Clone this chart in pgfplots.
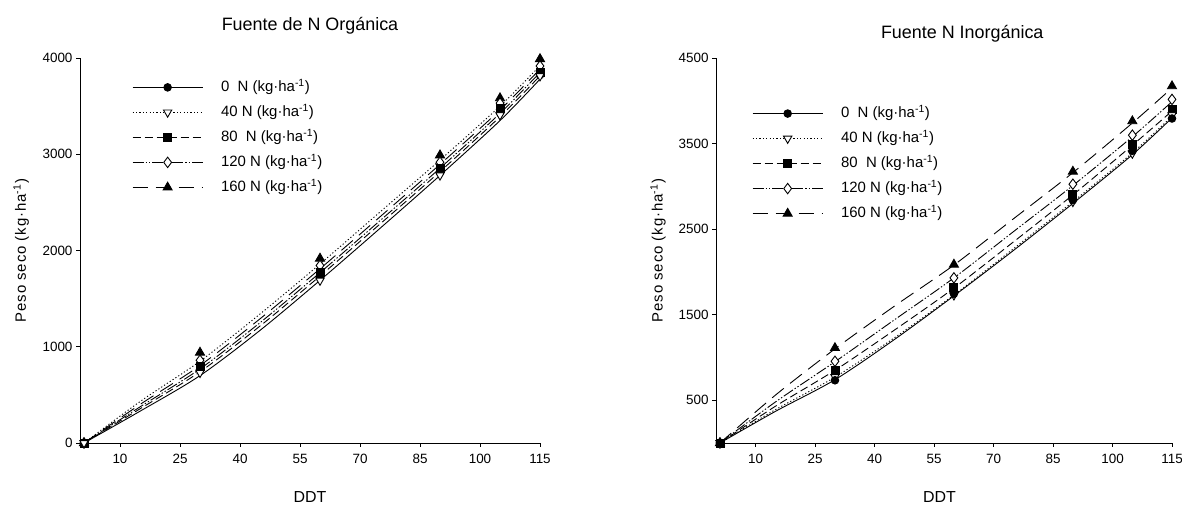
\documentclass[border=0pt]{standalone}
\usepackage{fontspec}
\setmainfont{Liberation Sans}
\usepackage{pgfplots}
\pgfplotsset{compat=1.18}
\pgfplotsset{
 refax/.style={
  scale only axis, clip=false,
  axis x line=bottom, axis y line=left,
  axis line style={-, line width=0.9bp},
  xmin=0, xmax=115, ymin=0,
  xtick={10,25,40,55,70,85,100,115},
  tick align=outside, major tick length=4bp,
  tick style={black, line width=0.9bp},
  /pgf/number format/assume math mode=true,
  /pgf/number format/set thousands separator={},
  ticklabel style={font=\fontsize{13.5}{15}\selectfont},
  xticklabel style={yshift=-4bp},
  legend image code/.code={\draw[mark repeat=2,mark phase=2,#1] plot coordinates {(0bp,0bp)(35bp,0bp)(70bp,0bp)};},
  legend cell align=left,
  legend style={draw=none, fill=none, inner sep=0pt, anchor=north west, row sep=9bp,
    font=\fontsize{15}{17}\selectfont,
    nodes={inner sep=0pt, text height=12bp, text depth=4bp},
    /tikz/every odd column/.append style={column sep=18bp}},
  xlabel={DDT},
  ylabel={Peso seco (kg·ha\textsuperscript{-1})},
  xlabel style={anchor=center, font=\fontsize{16}{18}\selectfont},
  ylabel style={anchor=center, rotate=0, font=\fontsize{15}{17}\selectfont\addfontfeature{LetterSpace=6}},
  title style={anchor=center, font=\fontsize{18}{20}\selectfont},
 },
 lw/.style={black, line width=0.9bp},
 s0/.style={lw, solid, mark=*, mark size=3.8bp, mark options={solid, fill=black}},
 s40/.style={lw, dash pattern=on 1.2bp off 2.2bp, mark=triangle*, mark size=4.8bp, mark options={solid, rotate=180, fill=white}},
 s80/.style={lw, dash pattern=on 8bp off 4bp, mark=square*, mark size=4bp, mark options={solid, fill=black}},
 s120/.style={lw, dash pattern=on 11bp off 2bp on 1.4bp off 2bp on 1.4bp off 2bp, mark=diamond*, mark size=5.2bp, mark options={solid, fill=white}},
 s160/.style={lw, dash pattern=on 15bp off 8bp, mark=triangle*, mark size=5.2bp, mark options={solid, fill=black}},
}
\begin{document}
\begin{tikzpicture}
\path[use as bounding box] (0,0) rectangle (1182bp,506bp);
% ---------------- Left: organic
\begin{axis}[refax, at={(80bp,63bp)}, anchor=south west,
  width=460bp, height=385bp, ymax=4000,
  ytick={0,1000,2000,3000,4000},
  title={Fuente de N Orgánica},
  title style={at={(axis description cs:0.5,1.068)}},
  xlabel style={at={(axis description cs:0.5,-0.14)}},
  ylabel style={at={(axis description cs:-0.128,0.5)}, rotate=0},
  legend style={at={(axis description cs:0.113,0.945)}},
]
\addlegendimage{s0}\addlegendentry{0\ \ N (kg·ha\textsuperscript{-1})}
\addlegendimage{s40}\addlegendentry{40 N (kg·ha\textsuperscript{-1})}
\addlegendimage{s80}\addlegendentry{80\ \ N (kg·ha\textsuperscript{-1})}
\addlegendimage{s120}\addlegendentry{120 N (kg·ha\textsuperscript{-1})}
\addlegendimage{s160}\addlegendentry{160 N (kg·ha\textsuperscript{-1})}
% fitted curves
\addplot[lw, solid, smooth, forget plot] coordinates {(1,0)(15,330)(30,700)(45,1170)(60,1690)(75,2230)(90,2780)(105,3350)(115,3780)};
\addplot[lw, dash pattern=on 8bp off 4bp, smooth, forget plot] coordinates {(1,0)(15,355)(30,740)(45,1215)(60,1735)(75,2275)(90,2820)(105,3390)(115,3815)};
\addplot[lw, dash pattern=on 11bp off 2bp on 1.4bp off 2bp on 1.4bp off 2bp, smooth, forget plot] coordinates {(1,0)(15,375)(30,770)(45,1250)(60,1770)(75,2310)(90,2855)(105,3425)(115,3850)};
\addplot[lw, dash pattern=on 15bp off 8bp, smooth, forget plot] coordinates {(1,0)(15,400)(30,805)(45,1290)(60,1810)(75,2350)(90,2895)(105,3460)(115,3885)};
\addplot[lw, dash pattern=on 1.2bp off 2.2bp, smooth, forget plot] coordinates {(1,0)(15,430)(30,850)(45,1340)(60,1860)(75,2400)(90,2940)(105,3500)(115,3920)};
% observed points
\addplot[s160, only marks, forget plot] coordinates {(1,0)(30,940)(60,1917)(90,2990)(105,3583)(115,3990)};
\addplot[s120, only marks, forget plot] coordinates {(1,0)(30,860)(60,1844)(90,2917)(105,3531)(115,3917)};
\addplot[s80, only marks, forget plot] coordinates {(1,0)(30,800)(60,1771)(90,2854)(105,3479)(115,3854)};
\addplot[s0, only marks, forget plot] coordinates {(1,0)(30,760)(60,1719)(90,2812)(105,3437)(115,3823)};
\addplot[s40, only marks, forget plot] coordinates {(1,0)(30,730)(60,1688)(90,2781)(105,3406)(115,3812)};
\end{axis}
% ---------------- Right: inorganic
\begin{axis}[refax, at={(716bp,63bp)}, anchor=south west,
  width=456bp, height=385bp, ymax=4500,
  ytick={500,1500,2500,3500,4500},
  title={Fuente N Inorgánica},
  title style={at={(axis description cs:0.54,1.047)}},
  xlabel style={at={(axis description cs:0.49,-0.14)}},
  ylabel style={at={(axis description cs:-0.127,0.5)}, rotate=0},
  legend style={at={(axis description cs:0.079,0.877)}},
]
\addlegendimage{s0}\addlegendentry{0\ \ N (kg·ha\textsuperscript{-1})}
\addlegendimage{s40}\addlegendentry{40 N (kg·ha\textsuperscript{-1})}
\addlegendimage{s80}\addlegendentry{80\ \ N (kg·ha\textsuperscript{-1})}
\addlegendimage{s120}\addlegendentry{120 N (kg·ha\textsuperscript{-1})}
\addlegendimage{s160}\addlegendentry{160 N (kg·ha\textsuperscript{-1})}
% fitted curves
\addplot[lw, solid, smooth, forget plot] coordinates {(1,0)(15,370)(30,740)(45,1210)(60,1720)(75,2250)(90,2800)(105,3370)(115,3800)};
\addplot[lw, dash pattern=on 1.2bp off 2.2bp, smooth, forget plot] coordinates {(1,0)(15,390)(30,770)(45,1230)(60,1730)(75,2270)(90,2820)(105,3390)(115,3820)};
\addplot[lw, dash pattern=on 8bp off 4bp, smooth, forget plot] coordinates {(1,0)(15,430)(30,850)(45,1320)(60,1810)(75,2350)(90,2900)(105,3480)(115,3880)};
\addplot[lw, dash pattern=on 11bp off 2bp on 1.4bp off 2bp on 1.4bp off 2bp, smooth, forget plot] coordinates {(1,0)(15,480)(30,950)(45,1440)(60,1930)(75,2470)(90,3010)(105,3580)(115,3990)};
\addplot[lw, dash pattern=on 15bp off 8bp, smooth, forget plot] coordinates {(1,0)(15,560)(30,1100)(45,1600)(60,2080)(75,2620)(90,3160)(105,3740)(115,4150)};
% observed points
\addplot[s160, only marks, forget plot] coordinates {(1,0)(30,1111)(60,2086)(90,3173)(105,3762)(115,4171)};
\addplot[s120, only marks, forget plot] coordinates {(1,0)(30,955)(60,1930)(90,3025)(105,3598)(115,4016)};
\addplot[s80, only marks, forget plot] coordinates {(1,0)(30,850)(60,1817)(90,2908)(105,3493)(115,3899)};
\addplot[s40, only marks, forget plot] coordinates {(1,0)(30,772)(60,1727)(90,2819)(105,3384)(115,3832)};
\addplot[s0, only marks, forget plot] coordinates {(1,0)(30,733)(60,1745)(90,2838)(105,3415)(115,3793)};
\end{axis}
\end{tikzpicture}
\end{document}
